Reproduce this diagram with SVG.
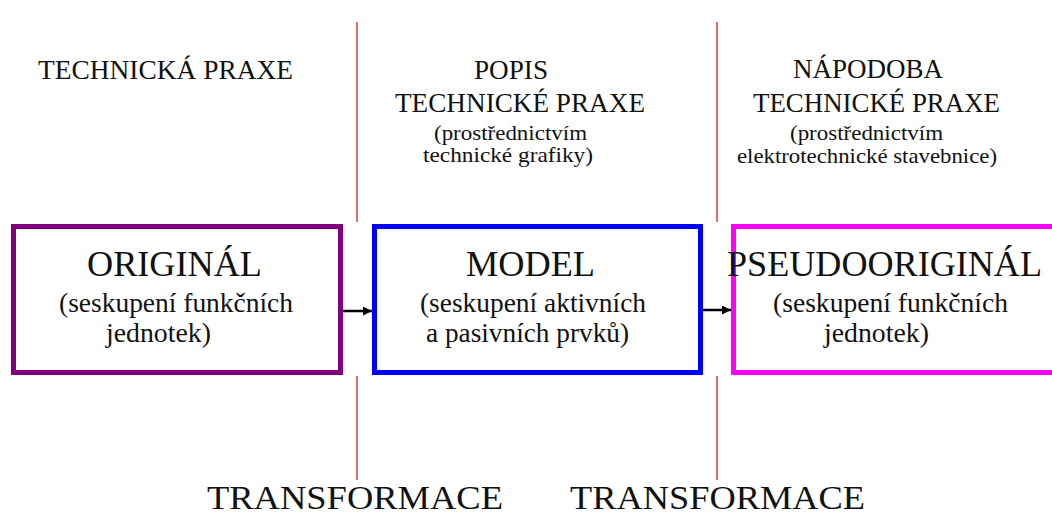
<svg xmlns="http://www.w3.org/2000/svg" width="1052" height="517" viewBox="0 0 1052 517">
<style>
  text { font-family: "Liberation Serif", "Times New Roman", serif; fill: #111; }
  .hd { font-size: 27px; }
  .sm { font-size: 21px; }
  .big { font-size: 36px; }
  .sub { font-size: 27px; }
  .tr { font-size: 34px; }
  .box { fill: #fff; stroke-width: 5; }
  .sep { stroke: #E6474C; stroke-width: 1.6; fill: none; }
  .conn { stroke: #000; stroke-width: 2.5; fill: none; }
</style>
<defs>
  <marker id="arr" viewBox="0 0 10 10" refX="10" refY="5" markerWidth="10" markerHeight="9" markerUnits="userSpaceOnUse" orient="auto">
    <path d="M0,0 L10,5 L0,10 z" fill="#000"/>
  </marker>
</defs>
<rect width="1052" height="517" fill="#fff"/>

<g id="separators">
  <line class="sep" x1="357" y1="22" x2="357" y2="222"/>
  <line class="sep" x1="357" y1="376" x2="357" y2="480"/>
  <line class="sep" x1="717" y1="22" x2="717" y2="222"/>
  <line class="sep" x1="717" y1="376" x2="717" y2="480"/>
</g>

<g id="headers">
  <text class="hd" x="38" y="79" textLength="255" lengthAdjust="spacingAndGlyphs">TECHNICKÁ PRAXE</text>
  <text class="hd" x="474" y="79" textLength="74" lengthAdjust="spacingAndGlyphs">POPIS</text>
  <text class="hd" x="395" y="112" textLength="250" lengthAdjust="spacingAndGlyphs">TECHNICKÉ PRAXE</text>
  <text class="sm" x="434" y="140" textLength="153" lengthAdjust="spacingAndGlyphs">(prostřednictvím</text>
  <text class="sm" x="423" y="162" textLength="170" lengthAdjust="spacingAndGlyphs">technické grafiky)</text>
  <text class="hd" x="793" y="78" textLength="150" lengthAdjust="spacingAndGlyphs">NÁPODOBA</text>
  <text class="hd" x="753" y="112" textLength="247" lengthAdjust="spacingAndGlyphs">TECHNICKÉ PRAXE</text>
  <text class="sm" x="790" y="140" textLength="153" lengthAdjust="spacingAndGlyphs">(prostřednictvím</text>
  <text class="sm" x="737" y="163" textLength="260" lengthAdjust="spacingAndGlyphs">elektrotechnické stavebnice)</text>
</g>

<g id="node-original">
  <rect class="box" x="13.5" y="226.5" width="327" height="146" stroke="#800080"/>
  <text class="big" x="87" y="276" textLength="175" lengthAdjust="spacingAndGlyphs">ORIGINÁL</text>
  <text class="sub" x="59" y="312" textLength="234" lengthAdjust="spacingAndGlyphs">(seskupení funkčních</text>
  <text class="sub" x="106" y="342" textLength="105" lengthAdjust="spacingAndGlyphs">jednotek)</text>
</g>

<g id="node-model">
  <rect class="box" x="374.5" y="226.5" width="326" height="146" stroke="#0000FF"/>
  <text class="big" x="466" y="276" textLength="129" lengthAdjust="spacingAndGlyphs">MODEL</text>
  <text class="sub" x="420" y="312" textLength="226" lengthAdjust="spacingAndGlyphs">(seskupení aktivních</text>
  <text class="sub" x="426" y="342" textLength="203" lengthAdjust="spacingAndGlyphs">a pasivních prvků)</text>
</g>

<g id="node-pseudooriginal">
  <rect class="box" x="733.5" y="226.5" width="330" height="146" stroke="#FF00FF"/>
  <text class="big" x="727" y="276" textLength="315" lengthAdjust="spacingAndGlyphs">PSEUDOORIGINÁL</text>
  <text class="sub" x="773" y="312" textLength="235" lengthAdjust="spacingAndGlyphs">(seskupení funkčních</text>
  <text class="sub" x="824" y="342" textLength="105" lengthAdjust="spacingAndGlyphs">jednotek)</text>
</g>

<g id="connectors">
  <line class="conn" x1="343" y1="311" x2="372" y2="311" marker-end="url(#arr)"/>
  <line class="conn" x1="703" y1="310" x2="731" y2="310" marker-end="url(#arr)"/>
</g>

<g id="transform-labels">
  <text class="tr" x="207" y="509" textLength="296" lengthAdjust="spacingAndGlyphs">TRANSFORMACE</text>
  <text class="tr" x="570" y="509" textLength="295" lengthAdjust="spacingAndGlyphs">TRANSFORMACE</text>
</g>
</svg>
